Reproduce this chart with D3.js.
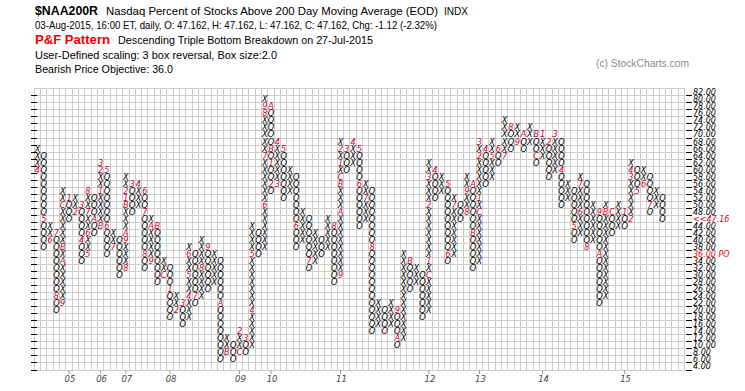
<!DOCTYPE html>
<meta charset="utf-8">
<html>
<script src="https://d3js.org/d3.v7.min.js"></script>
<style>
    body { margin: 0; background: #fff; }
    svg text { font-family: "Liberation Sans", Arial, sans-serif; }
    .box { font-family: "DejaVu Sans", Verdana, sans-serif; font-style: italic; font-size: 8.2px; }
    .price { font-family: "DejaVu Sans", Verdana, sans-serif; font-style: italic; font-size: 8px; }
</style>
<body>
<div id="chart"></div>
<script>

    // P&F columns, left to right, alternating X / O starting with X: [lowest box, highest box]
    var columns = [
        [60, 66], [38, 64], [40, 44], [20, 42], [22, 54], [46, 52], [48, 52], [34, 50], [36, 54], [42, 52],
        [44, 62], [36, 60], [38, 42], [30, 40], [32, 58], [48, 56], [50, 56], [32, 54], [34, 46], [28, 44],
        [30, 34], [18, 32], [20, 24], [16, 22], [18, 38], [22, 36], [24, 40], [26, 38], [28, 36], [6, 34],
        [8, 12], [6, 10], [8, 14], [8, 12], [10, 44], [36, 42], [38, 80], [54, 78], [56, 68], [52, 66],
        [54, 60], [38, 58], [40, 48], [32, 46], [34, 42], [36, 40], [38, 46], [28, 44], [30, 68], [60, 66],
        [62, 68], [44, 66], [46, 56], [14, 54], [16, 22], [14, 20], [16, 22], [10, 20], [12, 36], [26, 34],
        [28, 32], [18, 30], [20, 62], [52, 60], [54, 58], [34, 56], [36, 52], [46, 50], [48, 58], [32, 56],
        [34, 68], [56, 66], [58, 68], [62, 66], [64, 74], [66, 72], [68, 72], [66, 70], [68, 72], [62, 70],
        [64, 70], [58, 68], [60, 70], [50, 68], [52, 56], [40, 54], [42, 58], [38, 56], [40, 50], [22, 48],
        [24, 50], [42, 48], [44, 50], [44, 48], [46, 62], [54, 60], [56, 60], [48, 58], [50, 54], [46, 52]
    ];

    // month markers that replace a box: [column, box, month code]
    var months = [
        [0, 60, "4"], [1, 46, "5"], [2, 40, "6"], [3, 42, "7"], [3, 24, "8"], [4, 22, "9"], [4, 34, "A"],
        [4, 38, "B"], [4, 50, "C"], [5, 52, "1"], [6, 48, "2"], [7, 50, "3"], [7, 40, "4"], [8, 36, "5"],
        [8, 42, "6"], [8, 48, "7"], [8, 54, "8"], [9, 46, "A"], [10, 44, "B"], [10, 54, "1"], [10, 60, "2"],
        [10, 62, "3"], [11, 60, "5"], [11, 44, "6"], [12, 38, "7"], [14, 32, "8"], [14, 40, "9"], [14, 42, "A"],
        [14, 50, "B"], [14, 52, "1"], [14, 54, "2"], [15, 56, "3"], [16, 56, "4"], [17, 54, "6"], [17, 48, "7"],
        [17, 36, "8"], [18, 34, "9"], [18, 44, "A"], [19, 44, "B"], [20, 30, "C"], [21, 26, "1"], [22, 20, "2"],
        [23, 22, "3"], [24, 24, "4"], [24, 30, "5"], [24, 36, "6"], [25, 24, "7"], [26, 32, "8"], [27, 38, "9"],
        [29, 22, "A"], [30, 8, "B"], [32, 8, "C"], [32, 14, "2"], [33, 12, "3"], [34, 20, "4"], [34, 36, "5"],
        [36, 50, "6"], [36, 64, "7"], [36, 76, "8"], [36, 78, "9"], [37, 78, "A"], [37, 66, "B"], [37, 62, "1"],
        [37, 56, "2"], [38, 56, "3"], [38, 68, "4"], [39, 66, "5"], [41, 44, "6"], [43, 34, "7"], [47, 44, "8"],
        [48, 30, "9"], [48, 48, "A"], [48, 56, "B"], [48, 58, "C"], [48, 62, "1"], [48, 66, "2"], [49, 66, "3"],
        [50, 68, "4"], [51, 66, "5"], [51, 56, "6"], [52, 52, "7"], [53, 38, "8"], [57, 20, "9"], [57, 12, "A"],
        [59, 34, "B"], [62, 30, "C"], [62, 34, "1"], [62, 50, "2"], [62, 58, "3"], [63, 60, "4"], [65, 56, "5"],
        [65, 36, "6"], [66, 50, "7"], [68, 48, "8"], [68, 54, "9"], [69, 56, "A"], [69, 42, "B"], [70, 48, "C"],
        [70, 52, "1"], [70, 64, "2"], [70, 68, "3"], [71, 66, "4"], [72, 64, "5"], [73, 66, "6"], [74, 64, "7"],
        [75, 72, "8"], [76, 68, "9"], [77, 70, "A"], [79, 70, "B"], [79, 64, "C"], [80, 70, "1"], [81, 68, "2"],
        [82, 70, "3"], [83, 60, "4"], [85, 44, "5"], [86, 48, "6"], [86, 56, "7"], [87, 38, "8"], [89, 48, "9"],
        [89, 36, "A"], [90, 48, "B"], [91, 48, "C"], [93, 48, "1"], [94, 46, "2"], [94, 58, "3"], [94, 60, "4"],
        [95, 54, "5"], [96, 56, "6"], [97, 50, "7"]
    ];

    // year labels under the column where January starts
    var years = [["05", 5], ["06", 10], ["07", 14], ["08", 21], ["09", 32], ["10", 37],
                 ["11", 48], ["12", 62], ["13", 70], ["14", 80], ["15", 93]];

    // price boxes, top to bottom
    var boxes = [82, 80, 78, 76, 74, 72, 70, 68, 66, 64, 62, 60, 58, 56, 54, 52, 50, 48, 46, 44,
                 42, 40, 38, 36, 34, 32, 30, 28, 26, 24, 22, 20, 18, 16, 14, 12, 10, 8, 6, 4];

    var lastLabel = { box: 46, text: "<<47.16" };
    var objectiveLabel = { box: 36, text: "36.00 PO" };
    var nCols = 103;

    var width = 745, height = 391;
    var monthColor = "#cc0033";

    var svg = d3.select("#chart")
        .append("svg")
        .attr("width", width)
        .attr("height", height);

    // header texts, stretched to the widths they have in the original
    function header(xp, yp, txt, len, size, bold, color) {
        svg.append("text").attr("x", xp).attr("y", yp)
            .attr("textLength", len).attr("lengthAdjust", "spacingAndGlyphs")
            .style("font-size", size + "px")
            .style("font-weight", bold ? "bold" : "normal")
            .style("fill", color || "#000")
            .text(txt);
    }
    header(35, 15, "$NAA200R", 63, 12.5, true);
    header(106, 15, "Nasdaq Percent of Stocks Above 200 Day Moving Average (EOD)", 332, 11);
    header(444, 15, "INDX", 24, 11);
    header(35, 29, "03-Aug-2015, 16:00 ET, daily, O: 47.162, H: 47.162, L: 47.162, C: 47.162, Chg: -1.12 (-2.32%)", 402, 11);
    header(35, 44, "P&F Pattern", 75, 12.5, true, "#f00000");
    header(118, 44, "Descending Triple Bottom Breakdown on 27-Jul-2015", 255, 11);
    header(35, 58.5, "User-Defined scaling: 3 box reversal, Box size:2.0", 242, 11);
    header(35, 73, "Bearish Price Objective: 36.0", 138, 11);
    header(596, 67, "(c) StockCharts.com", 93, 10, false, "#8c8c8c");

    // scales
    var x = d3.scaleBand().domain(d3.range(nCols)).range([34.3, 684.6]);
    var y = d3.scaleBand().domain(boxes).range([88.8, 370]);
    var bw = x.bandwidth(), bh = y.bandwidth();

    // grid
    var grid = svg.append("g").attr("stroke", "#cdcdcd").attr("stroke-width", 1)
        .attr("shape-rendering", "crispEdges");
    grid.selectAll(".v").data(d3.range(nCols + 1)).enter().append("line")
        .attr("x1", function (d) { return 34.3 + d * bw; })
        .attr("x2", function (d) { return 34.3 + d * bw; })
        .attr("y1", 88.8).attr("y2", 370);
    grid.selectAll(".h").data(d3.range(boxes.length + 1)).enter().append("line")
        .attr("x1", 34.3).attr("x2", 684.6)
        .attr("y1", function (d) { return 88.8 + d * bh; })
        .attr("y2", function (d) { return 88.8 + d * bh; });

    // left and right ticks at the bottom of every box row
    var ticks = svg.append("g").attr("stroke", "#000").attr("shape-rendering", "crispEdges");
    ticks.selectAll(".lt").data(boxes).enter().append("line")
        .attr("x1", 31).attr("x2", 37)
        .attr("y1", function (d) { return y(d) + bh; })
        .attr("y2", function (d) { return y(d) + bh; });
    ticks.selectAll(".rt").data(boxes).enter().append("line")
        .attr("x1", 686).attr("x2", 692)
        .attr("y1", function (d) { return y(d) + bh; })
        .attr("y2", function (d) { return y(d) + bh; });

    // price labels on the right
    svg.selectAll(".price").data(boxes).enter().append("text")
        .attr("class", "price")
        .attr("x", 693)
        .attr("y", function (d) { return y(d) + bh / 2 + 3; })
        .style("fill", function (d) {
            if (d == lastLabel.box) return monthColor;
            if (d == objectiveLabel.box) return "#ff0000";
            return "#000";
        })
        .text(function (d) {
            if (d == lastLabel.box) return lastLabel.text;
            if (d == objectiveLabel.box) return objectiveLabel.text;
            return d.toFixed(2);
        });

    // year labels and their small ticks
    svg.selectAll(".yt").data(years).enter().append("line")
        .attr("x1", function (d) { return x(d[1]) + bw / 2; })
        .attr("x2", function (d) { return x(d[1]) + bw / 2; })
        .attr("y1", 370).attr("y2", 374)
        .attr("stroke", "#999");
    svg.selectAll(".year").data(years).enter().append("text")
        .attr("class", "box")
        .attr("x", function (d) { return x(d[1]) + bw / 2 + 1; })
        .attr("y", 382)
        .attr("text-anchor", "middle")
        .style("font-size", "8.5px")
        .style("fill", "#444")
        .text(function (d) { return d[0]; });

    // build the X / O cells
    var monthAt = {};
    months.forEach(function (m) { monthAt[m[0] + "_" + m[1]] = m[2]; });
    var cells = [];
    columns.forEach(function (c, i) {
        var type = (i % 2 == 0) ? "X" : "O";
        for (var b = c[0]; b <= c[1]; b += 2) {
            var m = monthAt[i + "_" + b];
            cells.push({ col: i, box: b, label: m ? m : type, month: !!m });
        }
    });

    svg.append("g").selectAll("text").data(cells).enter().append("text")
        .attr("class", "box")
        .attr("x", function (d) { return x(d.col) + bw / 2; })
        .attr("y", function (d) { return y(d.box) + bh / 2 + 3; })
        .attr("text-anchor", "middle")
        .style("fill", function (d) { return d.month ? monthColor : "#000"; })
        .text(function (d) { return d.label; });

</script>
</body>
</html>
